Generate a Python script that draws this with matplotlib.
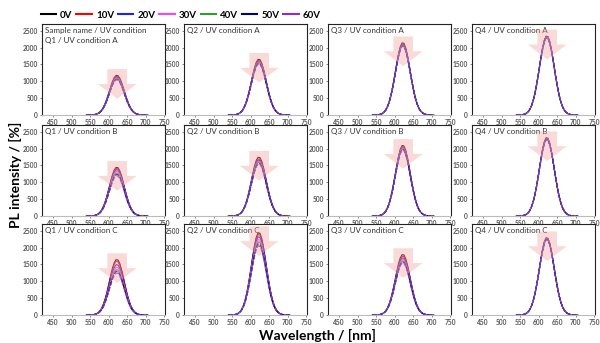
import numpy as np
import matplotlib
matplotlib.use("Agg")
import matplotlib.pyplot as plt

# voltages in the legend
voltages = ["0V", "10V", "20V", "30V", "40V", "50V", "60V"]

# normalised PL spectrum shape
wavelength = [540, 545, 550, 555, 560, 565, 570, 575, 580, 585, 590, 595, 600,
              605, 610, 615, 620, 625, 630, 635, 640, 645, 650, 655, 660, 665,
              670, 675, 680, 685, 690, 695, 700, 705]
shape = [0.0, 0.001, 0.002, 0.004, 0.008, 0.017, 0.034, 0.063, 0.110, 0.181,
         0.278, 0.402, 0.546, 0.697, 0.835, 0.940, 0.995, 0.989, 0.923, 0.810,
         0.667, 0.516, 0.375, 0.256, 0.164, 0.099, 0.056, 0.030, 0.015, 0.007,
         0.003, 0.001, 0.0005, 0.0]

# peak intensity per panel, 0V..60V
quarters = ["Q1", "Q2", "Q3", "Q4"]
conditions = ["A", "B", "C"]
peaks_A = [[1180, 1150, 1120, 1100, 1080, 1060, 1050],
           [1660, 1630, 1600, 1580, 1560, 1540, 1520],
           [2150, 2120, 2100, 2080, 2070, 2060, 2050],
           [2350, 2340, 2330, 2320, 2310, 2300, 2300]]
peaks_B = [[1450, 1420, 1380, 1330, 1280, 1240, 1200],
           [1750, 1700, 1660, 1630, 1600, 1570, 1550],
           [2100, 2070, 2040, 2020, 2000, 1980, 1960],
           [2330, 2320, 2310, 2300, 2290, 2280, 2270]]
peaks_C = [[1650, 1600, 1500, 1420, 1350, 1300, 1250],
           [2450, 2400, 2330, 2250, 2180, 2120, 2060],
           [1800, 1750, 1700, 1650, 1610, 1580, 1550],
           [2300, 2290, 2280, 2270, 2260, 2250, 2240]]
peaks = [peaks_A, peaks_B, peaks_C]

colors = ["black", "red", "#2020ff", "#ff40ff", "#2ca02c", "#000080", "#8a2be2"]
styles = ["-", "-", "-", "-", "-", (0, (4, 1.5)), (0, (4, 1.5))]

plt.rcParams['font.family'] = ['Lato', 'DejaVu Sans']

fig = plt.figure(figsize=(6, 3.43), dpi=100)
W, H = 600, 343
col_left = [42, 184, 328, 472]
row_top = [24, 125, 224]
aw, ah = 123, 91

x = np.array(wavelength)
s = np.array(shape)

for r, cond in enumerate(conditions):
    for c, q in enumerate(quarters):
        ax = fig.add_axes([col_left[c] / W, 1 - (row_top[r] + ah) / H, aw / W, ah / H])
        pk = peaks[r][c]
        for i, v in enumerate(voltages):
            ax.plot(x, s * pk[i], color=colors[i], ls=styles[i], lw=0.8)
        # big translucent arrow showing the decrease
        top = max(pk) + 180
        ax.arrow(623, top, 0, -880, width=53, head_width=105, head_length=440,
                 length_includes_head=True, color='#f4a0a0', alpha=0.4, lw=0, zorder=5)
        ax.set_xlim(420, 752)
        ax.set_ylim(0, 2700)
        ax.set_xticks([450, 500, 550, 600, 650, 700, 750])
        ax.set_yticks([0, 500, 1000, 1500, 2000, 2500])
        ax.tick_params(labelsize=4.8, labelcolor='#555555', length=1.5, width=0.5,
                       pad=1.5, color='#555555')
        for t in ax.get_xticklabels() + ax.get_yticklabels():
            t.set_fontweight('bold')
        for sp in ['top', 'left', 'right']:
            ax.spines[sp].set_linewidth(0.8)
            ax.spines[sp].set_color('#222222')
        ax.spines['bottom'].set_color('#bbbbbb')
        ax.spines['bottom'].set_linewidth(0.8)
        label = q + " / UV condition " + cond
        if r == 0 and c == 0:
            label = "Sample name / UV condition\n" + label
        ax.text(0.025, 0.97, label, transform=ax.transAxes, fontsize=5.8,
                color='#333333', va='top', ha='left', linespacing=1.5)

handles = [plt.Line2D([], [], color=colors[i], lw=1.5) for i in range(len(voltages))]
fig.legend(handles, voltages, loc='upper left', bbox_to_anchor=(32 / W, 1 - 2 / H),
           ncol=7, frameon=False, prop={'weight': 'bold', 'size': 7},
           handlelength=1.6, handletextpad=0.4, columnspacing=0.4)

fig.text(15 / W, 1 - 175 / H, "PL intensity / [%]", rotation=90, fontsize=10,
         fontweight='bold', ha='center', va='center')
fig.text(317 / W, 1 - 335 / H, "Wavelength / [nm]", fontsize=10,
         fontweight='bold', ha='center', va='center')

fig.savefig("out.png", dpi=100)
